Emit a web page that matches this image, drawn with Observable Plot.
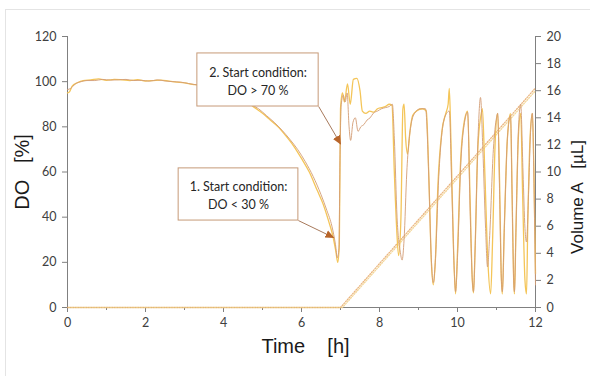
<!DOCTYPE html>
<html>
<head>
<meta charset="utf-8">
<script src="https://cdn.jsdelivr.net/npm/d3@7"></script>
<script src="https://cdn.jsdelivr.net/npm/@observablehq/plot@0.6"></script>
<style>
  html, body { margin: 0; padding: 0; background: #fff; }
  #wrap { position: relative; width: 590px; height: 376px; }
  #border { position: absolute; left: 5px; top: 9px; right: -2px; bottom: -2px; border: 1px solid #e4e4e4; pointer-events: none; }
</style>
</head>
<body>
<div id="wrap"><div id="border"></div></div>
<script>
// ---- Data ----
const timeA = [0,0.05,0.12,0.25,0.4,0.6,0.8,1.0,1.2,1.4,1.6,1.8,2.0,2.2,2.4,2.6,2.8,3.0,3.2,3.4,3.6,3.8,4.0,4.2,4.4,4.6,4.8,5.0,5.2,5.4,5.6,5.8,6.0,6.2,6.4,6.55,6.7,6.8,6.88,6.93,6.97,7.0,7.05,7.1,7.18,7.25,7.33,7.42,7.5,7.56,7.65,7.75,7.85,7.95,8.05,8.15,8.25,8.32,8.38,8.44,8.49,8.55,8.6,8.63,8.67,8.72,8.78,8.85,8.95,9.1,9.2,9.27,9.33,9.38,9.43,9.5,9.6,9.7,9.76,9.79,9.83,9.9,9.95,10.0,10.08,10.18,10.26,10.32,10.38,10.41,10.45,10.52,10.6,10.64,10.7,10.78,10.85,10.9,10.97,11.03,11.08,11.12,11.15,11.2,11.28,11.36,11.4,11.44,11.46,11.5,11.56,11.62,11.67,11.73,11.77,11.8,11.86,11.92,11.96,12];
const doA = [95,95.5,98,99.5,100.5,100.8,101.2,100.6,101,100.8,100.5,100.9,100.3,100.5,100.7,100.2,99.8,99.5,98.8,98.5,97.2,96.8,96,94.5,93,91,88.5,86,83,80,76,71.5,66,60,52,46,38,32,25,20,28,88,95,91,99,90,101,101.5,96,87,86,87,86.5,88,88.5,89,90,89.5,60,35,23,40,88,90,75,68,78,85,87,88,87,55,20,10,20,55,78,86,90,97,75,25,6,25,65,83,87,50,12,6.5,25,70,85,88,60,20,6,30,75,86,55,15,6,35,75,86,50,12,6,35,75,86,50,12,6,35,75,86,60,15];

const timeB = [0,0.08,0.2,0.35,0.5,0.7,0.9,1.1,1.3,1.5,1.7,1.9,2.1,2.3,2.5,2.7,2.9,3.1,3.3,3.5,3.7,3.9,4.1,4.3,4.5,4.7,4.9,5.1,5.3,5.5,5.7,5.9,6.1,6.3,6.5,6.65,6.78,6.87,6.92,6.96,6.99,7.02,7.07,7.12,7.17,7.22,7.26,7.32,7.38,7.45,7.52,7.6,7.68,7.76,7.84,7.95,8.05,8.15,8.25,8.33,8.38,8.45,8.53,8.58,8.63,8.7,8.8,8.9,9.05,9.18,9.26,9.32,9.38,9.43,9.52,9.62,9.72,9.79,9.85,9.92,9.95,10.0,10.08,10.18,10.26,10.32,10.38,10.41,10.45,10.52,10.59,10.65,10.72,10.77,10.82,10.92,11.0,11.03,11.08,11.12,11.15,11.2,11.28,11.36,11.4,11.44,11.46,11.5,11.56,11.62,11.68,11.73,11.77,11.82,11.88,11.92,11.96,12];
const doB = [96.5,97,99,100,100.5,100.5,101,100.7,100.8,101,100.5,100.6,100.2,100.8,100.3,100,99.8,99.2,98.6,98,97.2,96.5,95.5,94,92.5,90,88,85,82,78.5,74.5,70,64.5,58,50,43,36,28,22,26,70,90,94,91,95,80,74,82,84,78,80,81,83,84,86,87,88,88.5,89,90,75,40,25,21,30,60,80,86,88,88,60,25,11,20,58,80,86,87,55,15,7,22,62,82,86.5,45,12,7,25,72,93,70,35,18,30,70,84,86,50,15,7,35,75,85,50,12,7,35,78,90,60,35,29,50,80,86,55,10];

// Volume A (µL), two runs
const volTimeA = [0, 7.0, 12];
const volA = [0, 0, 16.2];
const volTimeB = [0, 7.05, 12];
const volB = [0, 0, 16.0];

// Axis ticks
const xTicks = [0,2,4,6,8,10,12];
const xMinor = [1,3,5,7,9,11];
const doTicks = [0,20,40,60,80,100,120];
const volTicks = [0,2,4,6,8,10,12,14,16,18,20];

// Annotations
const annText = ["1. Start condition:\nDO < 30 %", "2. Start condition:\nDO > 70 %"];
const annBoxX1 = [2.85, 3.33], annBoxX2 = [5.92, 6.44];
const annBoxY1 = [38.5, 89], annBoxY2 = [61.6, 112.5];
const annFromT = [5.92, 6.44], annFromDO = [38.5, 89];
const annToT = [6.82, 7.0], annToDO = [31, 72.5];

// ---- Build ----
const volScale = 120 / 20; // DO units per µL
const seriesA = timeA.map((t, i) => ({t, v: doA[i]}));
const seriesB = timeB.map((t, i) => ({t, v: doB[i]}));
const volLineA = volTimeA.map((t, i) => ({t, v: volA[i] * volScale}));
const volLineB = volTimeB.map((t, i) => ({t, v: volB[i] * volScale}));
const ann = annText.map((text, i) => ({
  text, x1: annBoxX1[i], x2: annBoxX2[i], y1: annBoxY1[i], y2: annBoxY2[i],
  fx: annFromT[i], fy: annFromDO[i], tx: annToT[i], ty: annToDO[i],
  cx: (annBoxX1[i] + annBoxX2[i]) / 2, cy: (annBoxY1[i] + annBoxY2[i]) / 2
}));

function triMarker(color, context) {
  const doc = context && context.document ? context.document : document;
  const m = doc.createElementNS("http://www.w3.org/2000/svg", "marker");
  m.setAttribute("viewBox", "-8 -5 10 10");
  m.setAttribute("markerWidth", "10");
  m.setAttribute("markerHeight", "10");
  m.setAttribute("orient", "auto");
  m.setAttribute("markerUnits", "userSpaceOnUse");
  m.setAttribute("fill", "#b8652a");
  m.setAttribute("stroke", "none");
  const p = doc.createElementNS("http://www.w3.org/2000/svg", "path");
  p.setAttribute("d", "M-8,-4L1,0L-8,4Z");
  m.appendChild(p);
  return m;
}

const axisColor = "#808080";
const tickFont = "Lato, 'Open Sans', sans-serif";
const titleFont = "'Liberation Sans', Arial, sans-serif";

const chart = Plot.plot({
  width: 590,
  height: 376,
  marginLeft: 67,
  marginRight: 55,
  marginTop: 36,
  marginBottom: 69,
  style: {background: "transparent", fontFamily: tickFont, fontSize: "12.5px", color: "#404040"},
  x: {domain: [0, 12], axis: null},
  y: {domain: [0, 120], axis: null},
  marks: [
    // axis lines
    Plot.ruleX([0], {stroke: axisColor, strokeWidth: 1}),
    Plot.ruleX([12], {stroke: axisColor, strokeWidth: 1}),
    Plot.ruleY([0], {stroke: axisColor, strokeWidth: 1}),
    Plot.axisX({ticks: xTicks, tickSize: 5, tickPadding: 6, stroke: axisColor, fill: "#404040", tickFormat: d => d}),
    Plot.axisX({ticks: xMinor, tickSize: 3, stroke: axisColor, tickFormat: () => ""}),
    Plot.axisY({anchor: "left", ticks: doTicks, tickSize: 5, tickPadding: 6, stroke: axisColor, fill: "#404040", tickFormat: d => d}),
    Plot.axisY({anchor: "right", ticks: volTicks.map(v => v * volScale), tickSize: 5, tickPadding: 6, stroke: axisColor, fill: "#404040", tickFormat: d => Math.round(d / volScale)}),
    // volume dotted lines
    Plot.line(volLineA, {x: "t", y: "v", stroke: "#e6a868", strokeWidth: 1.3, strokeOpacity: 0.85, strokeDasharray: "1,1.6"}),
    Plot.line(volLineB, {x: "t", y: "v", stroke: "#f1cf86", strokeWidth: 1.3, strokeOpacity: 0.85, strokeDasharray: "1,1.6", strokeDashoffset: 1.3}),
    // DO series
    Plot.line(seriesA, {x: "t", y: "v", stroke: "#f4c558", strokeWidth: 1.3, curve: "monotone-x"}),
    Plot.line(seriesB, {x: "t", y: "v", stroke: "#d39c74", strokeWidth: 1.0, strokeOpacity: 0.9, curve: "monotone-x"}),
    // annotations
    Plot.link(ann, {x1: "fx", y1: "fy", x2: "tx", y2: "ty", stroke: "#a87a5c", strokeWidth: 1, markerEnd: triMarker}),
    Plot.rect(ann, {x1: "x1", x2: "x2", y1: "y1", y2: "y2", fill: "white", stroke: "#c69a78", strokeWidth: 1}),
    Plot.text(ann, {x: "cx", y: "cy", text: "text", fontSize: 12.5, fill: "#262626", lineHeight: 1.45, fontFamily: tickFont}),
    // axis titles
    Plot.text(["Time    [h]"], {frameAnchor: "bottom", dy: 45, dx: 4, fontSize: 20, fill: "#1a1a1a", fontFamily: titleFont}),
    Plot.text(["DO   [%]"], {frameAnchor: "left", textAnchor: "middle", dx: -45, dy: 0, rotate: -90, fontSize: 20, fill: "#1a1a1a", fontFamily: titleFont}),
    Plot.text(["Volume A   [µL]"], {frameAnchor: "right", textAnchor: "middle", dx: 42, dy: 25, rotate: -90, fontSize: 17, fill: "#1a1a1a", fontFamily: titleFont})
  ]
});
document.getElementById("wrap").appendChild(chart);
chart.style.position = "absolute";
chart.style.left = "0";
chart.style.top = "0";
</script>
</body>
</html>
